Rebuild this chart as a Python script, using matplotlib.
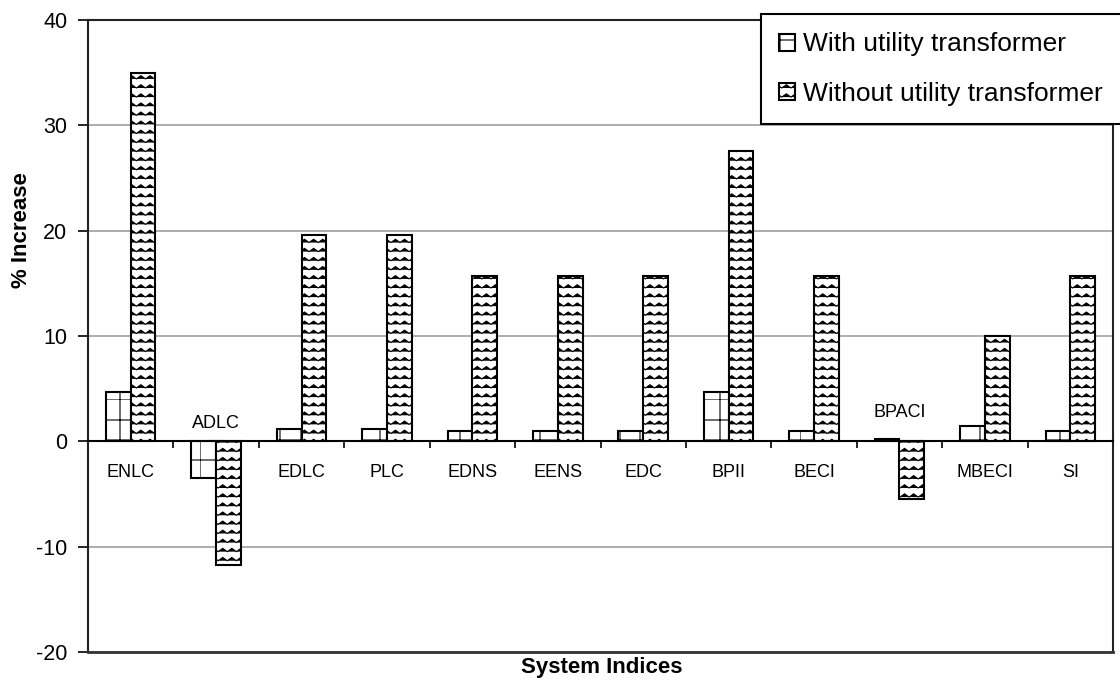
import warnings
import numpy as np
import matplotlib
matplotlib.use('Agg')
import matplotlib.pyplot as plt
from matplotlib import hatch as mhatch
from matplotlib.path import Path

warnings.filterwarnings('ignore')

categories = ['ENLC', 'ADLC', 'EDLC', 'PLC', 'EDNS', 'EENS', 'EDC',
              'BPII', 'BECI', 'BPACI', 'MBECI', 'SI']
with_tr = [4.7, -3.5, 1.2, 1.2, 1.0, 1.0, 1.0, 4.7, 1.0, 0.2, 1.5, 1.0]
without_tr = [35.0, -11.7, 19.6, 19.6, 15.7, 15.7, 15.7, 27.6, 15.7, -5.5, 10.0, 15.7]
series_names = ['With utility transformer', 'Without utility transformer']

# labels that sit above the zero line instead of below it
raised_labels = {'ADLC': 1.7, 'BPACI': 2.7}


# zigzag hatch, like the old excel "wave" fill
class WaveHatch(mhatch.HatchPatternBase):
    def __init__(self, hatch, density):
        self.num_rows = int(round(hatch.count('w') * density * 1.8))
        self.num_steps = self.num_rows * 2
        self.num_vertices = self.num_rows * (self.num_steps + 1)

    def set_vertices_and_codes(self, vertices, codes):
        if self.num_rows == 0:
            return
        step = 1.0 / self.num_rows
        n = self.num_steps + 1
        xs = np.linspace(0, 1, n)
        bumps = np.where(np.arange(n) % 2 == 0, -0.18, 0.18) * step
        for r in range(self.num_rows):
            vertices[r * n:(r + 1) * n, 0] = xs
            vertices[r * n:(r + 1) * n, 1] = (r + 0.5) * step + bumps
            codes[r * n] = Path.MOVETO
            codes[r * n + 1:(r + 1) * n] = Path.LINETO


# coarse square grid
class GridHatch(mhatch.HatchPatternBase):
    def __init__(self, hatch, density):
        self.num_lines = int(round(hatch.count('g') * density * 5 / 6))
        self.num_vertices = self.num_lines * 4

    def set_vertices_and_codes(self, vertices, codes):
        if self.num_lines == 0:
            return
        step = 1.0 / self.num_lines
        k = 0
        for i in range(self.num_lines):
            p = i * step
            vertices[k:k + 4] = [[0, p], [1, p], [p, 0], [p, 1]]
            codes[k:k + 4] = [Path.MOVETO, Path.LINETO, Path.MOVETO, Path.LINETO]
            k += 4


mhatch._hatch_types.append(WaveHatch)
mhatch._hatch_types.append(GridHatch)

plt.rcParams['font.family'] = ['Liberation Sans', 'DejaVu Sans']
plt.rcParams['hatch.linewidth'] = 0.8
plt.rcParams['axes.unicode_minus'] = False

fig = plt.figure(figsize=(11.2, 6.92), dpi=100)
ax = fig.add_axes([88 / 1120, 1 - 652 / 692, (1113 - 88) / 1120, (652 - 20) / 692])

x = np.arange(len(categories))
w = 0.29
b1 = ax.bar(x - w / 2, with_tr, w, facecolor='white', edgecolor='black',
            linewidth=1.5, hatch='g', label=series_names[0], zorder=3)
b2 = ax.bar(x + w / 2, without_tr, w, facecolor='white', edgecolor='black',
            linewidth=1.5, hatch='w', label=series_names[1], zorder=3)

ax.set_xlim(-0.5, len(categories) - 0.5)
ax.set_ylim(-20, 40)
ax.set_yticks(range(-20, 41, 10))
ax.grid(axis='y', color='#a0a0a0', linewidth=1.2)
ax.set_axisbelow(True)

ax.spines['bottom'].set_position(('data', 0))
ax.spines['bottom'].set_linewidth(1.5)
ax.spines['bottom'].set_zorder(4)
for s in ['top', 'left', 'right']:
    ax.spines[s].set_linewidth(1.5)
    ax.spines[s].set_color('#222222')
ax.axhline(-20, color='#333333', linewidth=2, clip_on=False, zorder=5)

ax.set_xticks(np.arange(0.5, len(categories) - 1, 1))
ax.set_xticklabels([])
ax.tick_params(axis='x', direction='out', length=5, width=1.2)
ax.tick_params(axis='y', direction='out', length=7, width=1.2, pad=8, labelsize=15.5)

for i, name in enumerate(categories):
    y = raised_labels.get(name, -2.95)
    ax.text(i, y, name, ha='center', va='center', fontsize=13, zorder=6)

fig.text(22 / 1120, 1 - 230 / 692, '% Increase', rotation=90, ha='center',
         va='center', fontsize=16, fontweight='bold')
fig.text(602 / 1120, 1 - 667 / 692, 'System Indices', ha='center',
         va='center', fontsize=16, fontweight='bold')

leg = fig.legend(handles=[b1, b2], loc='upper left',
                 bbox_to_anchor=(761 / 1120, 1 - 14 / 692, 375 / 1120, 0),
                 mode='expand', borderaxespad=0,
                 fontsize=19, frameon=True, fancybox=False, framealpha=1,
                 edgecolor='black', handlelength=0.6, handleheight=0.6,
                 handletextpad=0.3, labelspacing=0.95, borderpad=0.7)
leg.get_frame().set_linewidth(1.5)

fig.savefig('out.png', dpi=100)
